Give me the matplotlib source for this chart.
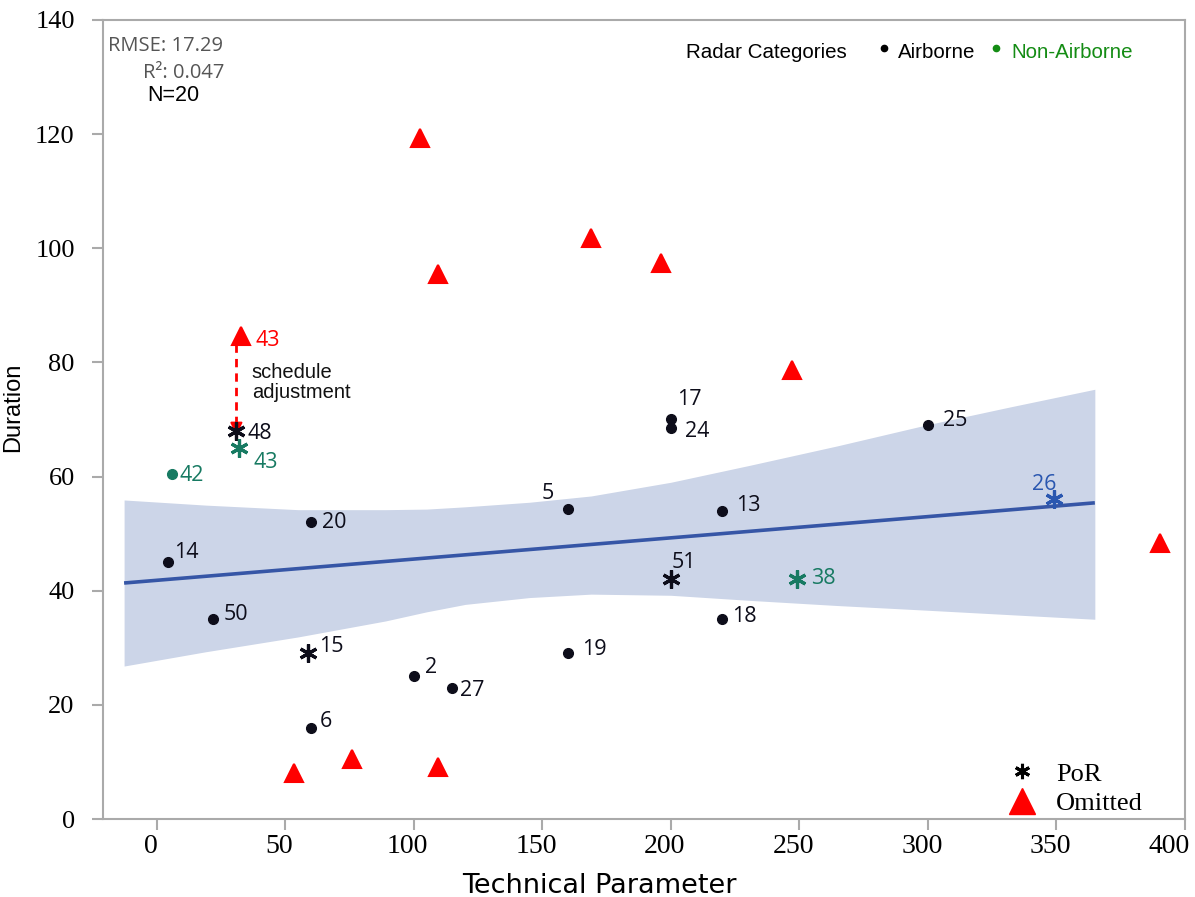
import matplotlib
matplotlib.use('Agg')
import matplotlib.pyplot as plt
import matplotlib.transforms as mtransforms
from matplotlib.lines import Line2D

# Airborne units (black dots)
air_x = [4.5, 22, 60, 60, 100, 115, 160, 160, 200, 200, 220, 220, 300]
air_y = [45, 35, 52, 16, 25, 23, 54.3, 29, 70, 68.5, 54, 35, 69]
air_ids = ['14', '50', '20', '6', '2', '27', '5', '19', '17', '24', '13', '18', '25']

# Non-airborne unit (green dot)
nonair_x = [6]
nonair_y = [60.5]
nonair_ids = ['42']

# PoR units (asterisks)
por_x = [31, 32, 59, 200, 249, 349]
por_y = [68, 65, 29, 42, 42, 56]
por_ids = ['48', '43', '15', '51', '38', '26']
por_group = ['air', 'nonair', 'air', 'air', 'nonair', 'blue']

# Omitted units (red triangles)
omit_x = [102.4, 169, 196.2, 109.4, 32.8, 247.1, 390.4, 53.4, 76, 109.4]
omit_y = [119.3, 101.8, 97.4, 95.5, 84.6, 78.7, 48.4, 8.1, 10.5, 9.1]
omit_ids = ['', '', '', '', '43', '', '', '', '', '']

# regression line and confidence band
fit_x = [-12.7, 365]
fit_y = [41.35, 55.4]
band_x = [-12.7, 19, 55, 89, 105, 120, 145, 169, 200, 231, 265, 299, 332, 365]
band_hi = [55.9, 55.0, 54.2, 54.2, 54.3, 54.7, 55.5, 56.6, 59.0, 62.0, 65.4, 69.0, 72.2, 75.3]
band_lo = [26.8, 29.3, 31.9, 34.7, 36.3, 37.6, 38.8, 39.4, 39.2, 38.3, 37.4, 36.6, 35.8, 35.0]

# stats box
rmse = 17.29
r2 = 0.047
n_units = 20

x_ticks = [0, 50, 100, 150, 200, 250, 300, 350, 400]
y_ticks = [0, 20, 40, 60, 80, 100, 120, 140]

# colours
BLACK = '#0d0d1a'
TEAL = '#177a62'
BLUE = '#2a57b0'
RED = '#ff0000'
colors = {'air': BLACK, 'nonair': TEAL, 'blue': BLUE}

# label offsets in pixels (dx, dy), one per point
air_off = [(6, 10), (10, 5), (11, 0), (9, 6), (11, 9), (8, -3), (-26, 16),
           (14, 4), (6, 20), (14, -3), (14, 5), (10, 3), (15, 5)]
nonair_off = [(7, -2)]
por_off = [(11, -3), (15, -14), (11, 7), (1, 17), (14, 1), (-22, 15)]
omit_off = (14, -4)

label_font = 'Open Sans'
LBL = 15.5

fig = plt.figure(figsize=(11.95, 8.97), dpi=100)
ax = fig.add_axes([102.5 / 1195, (897 - 819) / 897, 1082.3 / 1195, 799 / 897])

# band + fit line
ax.fill_between(band_x, band_lo, band_hi, color='#ccd5e8', lw=0, zorder=1)
ax.plot(fit_x, fit_y, color='#3656a6', lw=2.6, zorder=2, solid_capstyle='butt')

# points
ax.plot(air_x, air_y, 'o', color=BLACK, ms=7, ls='', zorder=4)
ax.plot(nonair_x, nonair_y, 'o', color=TEAL, ms=7, ls='', zorder=4)
for x, y, g in zip(por_x, por_y, por_group):
    ax.plot([x], [y], marker=(6, 2, 0), color=colors[g], ms=13, mew=2.3, ls='', zorder=4)
ax.plot(omit_x, omit_y, '^', color=RED, ms=12.5, mec=RED, mew=1.5, ls='', zorder=4)

# point labels
for x, y, t, off in zip(air_x, air_y, air_ids, air_off):
    ax.annotate(t, (x, y), xytext=off, textcoords='offset pixels', ha='left', va='center',
                fontsize=LBL, family=label_font, color=BLACK, zorder=5)
for x, y, t, off in zip(nonair_x, nonair_y, nonair_ids, nonair_off):
    ax.annotate(t, (x, y), xytext=off, textcoords='offset pixels', ha='left', va='center',
                fontsize=LBL, family=label_font, color=TEAL, zorder=5)
for x, y, t, off, g in zip(por_x, por_y, por_ids, por_off, por_group):
    ax.annotate(t, (x, y), xytext=off, textcoords='offset pixels', ha='left', va='center',
                fontsize=LBL, family=label_font, color=colors[g], zorder=5)
for x, y, t in zip(omit_x, omit_y, omit_ids):
    if t:
        ax.annotate(t, (x, y), xytext=omit_off, textcoords='offset pixels', ha='left', va='center',
                    fontsize=LBL, family=label_font, color=RED, zorder=5)

# schedule adjustment arrow (from omitted 43 down to PoR 48)
ax.plot([31, 31], [83.3, 69.5], color=RED, ls=(0, (3, 2.2)), lw=2, zorder=3)
ax.annotate('', xy=(31, 66.8), xytext=(31, 70),
            arrowprops=dict(arrowstyle='-|>', color=RED, lw=1.5, mutation_scale=18), zorder=3)
ax.text(37, 76.5, 'schedule\nadjustment', fontsize=14.5, family='Liberation Sans',
        ha='left', va='center', linespacing=1.1, color='#111111')

# stats text
ax.text(0.005, 0.967, f'RMSE: {rmse}', transform=ax.transAxes, fontsize=14.5,
        family=label_font, color='#555555', ha='left', va='center')
ax.text(0.0374, 0.934, f'R\u00b2: {r2}', transform=ax.transAxes, fontsize=14.5,
        family=label_font, color='#555555', ha='left', va='center')
ax.text(0.041, 0.905, f'N={n_units}', transform=ax.transAxes, fontsize=15.5,
        family='Liberation Sans', color='black', ha='left', va='center')

# radar category key
ax.text(0.539, 0.959, 'Radar Categories', transform=ax.transAxes, fontsize=14.8,
        family='Liberation Sans', color='black', ha='left', va='center')
ax.plot([0.722], [0.965], 'o', ms=4.5, color='black', transform=ax.transAxes, clip_on=False)
ax.text(0.735, 0.959, 'Airborne', transform=ax.transAxes, fontsize=14.8,
        family='Liberation Sans', color='black', ha='left', va='center')
ax.plot([0.826], [0.965], 'o', ms=4.5, color='#148c14', transform=ax.transAxes, clip_on=False)
ax.text(0.840, 0.959, 'Non-Airborne', transform=ax.transAxes, fontsize=14.8,
        family='Liberation Sans', color='#148c14', ha='left', va='center')

# marker legend
handles = [Line2D([], [], marker=(6, 2, 0), color='black', ls='', ms=11, mew=2.2),
           Line2D([], [], marker='^', color=RED, ls='', ms=19)]
leg = ax.legend(handles, ['PoR', 'Omitted'], loc='lower right', bbox_to_anchor=(0.971, -0.008),
                frameon=False, prop={'family': 'Liberation Serif', 'size': 19},
                handletextpad=0.5, labelspacing=0.22, borderaxespad=0, handlelength=1.6)

# axes styling
ax.set_xlim(-21.1, 400)
ax.set_ylim(0, 140)
ax.set_xticks(x_ticks)
ax.set_yticks(y_ticks)
for s in ax.spines.values():
    s.set_color('#aaaaaa')
    s.set_linewidth(1.5)
ax.tick_params(direction='out', length=8, width=1.5, color='#aaaaaa')
ax.tick_params(axis='x', pad=3)
ax.tick_params(axis='y', pad=12)
xlabels = ax.get_xticklabels()
for i, lab in enumerate(xlabels):
    lab.set_fontfamily('Liberation Serif')
    lab.set_fontsize(20)
    shift = -16 if i == len(xlabels) - 1 else -6
    lab.set_transform(lab.get_transform() +
                      mtransforms.ScaledTranslation(shift / 100, 0, fig.dpi_scale_trans))
for lab in ax.get_yticklabels():
    lab.set_fontfamily('Liberation Serif')
    lab.set_fontsize(19)

ax.set_xlabel('Technical Parameter', fontsize=19.5, family='DejaVu Sans')
ax.xaxis.set_label_coords((599 - 102.5) / 1082.3, -0.067)
ax.set_ylabel('Duration', fontsize=17, family=['Liberation Sans Narrow', 'Liberation Sans'])
ax.yaxis.set_label_coords(-0.072, (819 - 407) / 799)

fig.savefig('out.png', dpi=100)
